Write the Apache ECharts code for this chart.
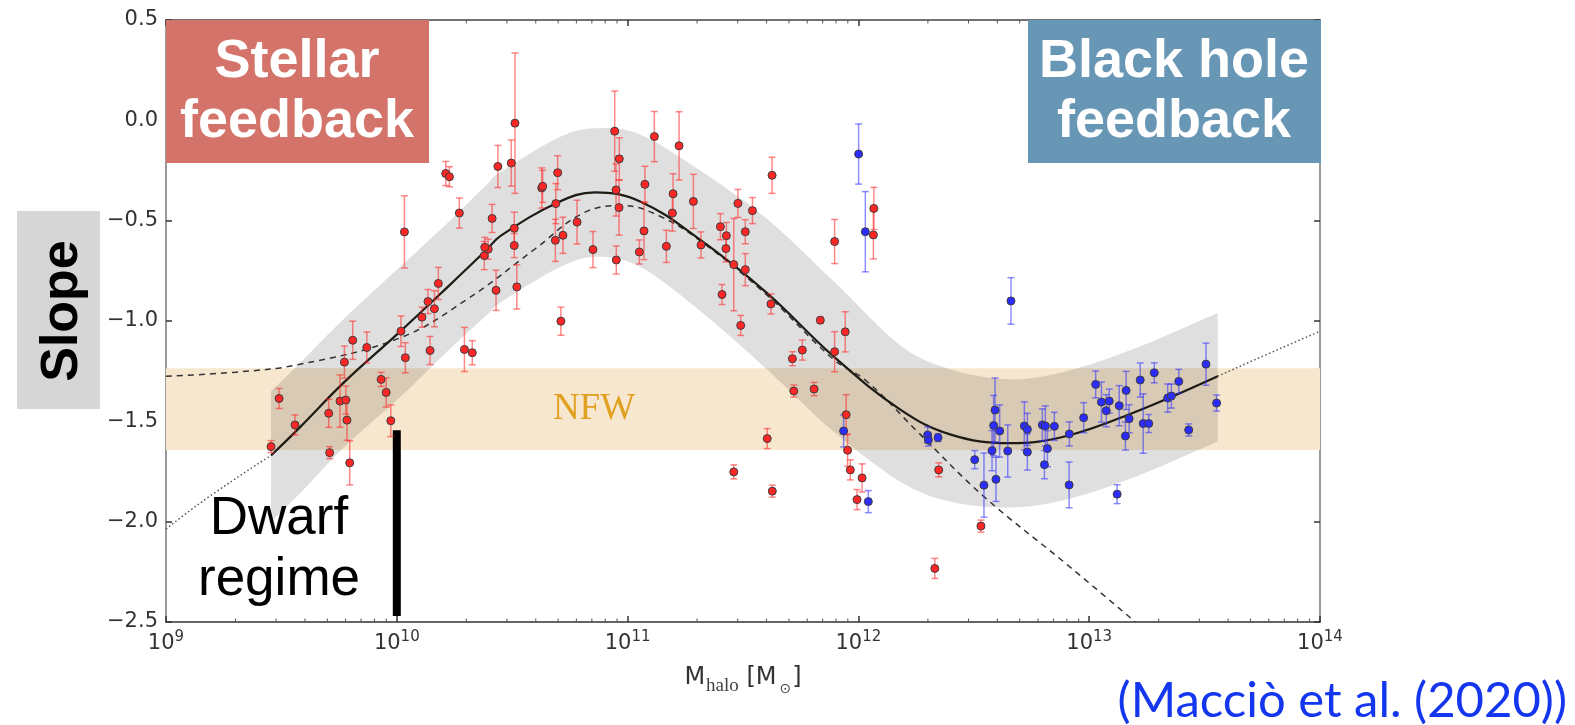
<!DOCTYPE html>
<html>
<head>
<meta charset="utf-8">
<script src="https://cdn.jsdelivr.net/npm/echarts@6.0.0/dist/echarts.min.js"></script>
<style>
  html, body { margin: 0; padding: 0; background: #fff; }
  #chart { width: 1575px; height: 725px; }
</style>
</head>
<body>
<div id="chart"></div>
<script>
// log10(M_halo) and slope values
const redLogM = [9.455, 9.490, 9.559, 9.705, 9.709, 9.754, 9.779, 9.784, 9.796, 9.773, 9.809, 9.870, 9.932, 9.954, 9.974,
  10.018, 10.037, 10.033, 10.109, 10.135, 10.163, 10.144, 10.180, 10.293, 10.327, 10.379, 10.396, 10.430, 10.520, 10.212,
  10.228, 10.271, 10.438, 10.496, 10.512, 10.413, 10.381, 10.509, 10.509, 10.628, 10.632, 10.697, 10.689, 10.687, 10.720,
  10.781, 10.711, 10.850, 10.944, 10.964, 10.950, 10.963, 10.951, 11.075, 11.071, 11.051, 11.116, 11.223, 11.197, 11.194,
  11.168, 11.285, 11.318, 11.402, 11.428, 11.426, 11.478, 11.460, 11.510, 11.510, 11.541, 11.409, 11.490, 11.626, 11.621,
  11.835, 11.897, 12.067, 12.065, 11.714, 11.757, 11.897, 11.943, 11.720, 11.808, 11.605, 11.460, 11.627, 11.947, 11.953,
  11.965, 12.016, 11.994, 12.348, 12.331, 12.531]
const redSlope = [-1.626, -1.386, -1.518, -1.460, -1.656, -1.399, -1.394, -1.494, -1.707, -1.205, -1.096, -1.132, -1.291, -1.356, -1.497,
  -1.051, -1.183, -0.556, -0.981, -0.903, -0.939, -1.147, -0.813, -1.142, -1.158, -0.674, -0.642, -0.847, -0.830, -0.265,
  -0.281, -0.462, -0.230, -0.213, -0.014, -0.489, -0.633, -0.538, -0.624, -0.337, -0.329, -0.261, -0.415, -0.598, -0.573,
  -0.507, -1.001, -0.644, -0.054, -0.192, -0.347, -0.435, -0.696, -0.319, -0.551, -0.656, -0.081, -0.127, -0.366, -0.462,
  -0.628, -0.404, -0.621, -0.530, -0.575, -0.639, -0.414, -0.719, -0.555, -0.744, -0.450, -0.868, -1.022, -0.274, -0.915,
  -0.996, -0.604, -0.439, -0.571, -1.188, -1.145, -1.153, -1.054, -1.349, -1.339, -1.586, -1.752, -1.848, -1.467, -1.644,
  -1.742, -1.782, -1.890, -1.742, -2.233, -2.022]
const redErr = [0.03, 0.05, 0.05, 0.07, 0.03, 0.13, 0.07, 0.10, 0.11, 0.08, 0.095, 0.077, 0.035, 0.073, 0.079,
  0.076, 0.075, 0.18, 0.05, 0.06, 0.09, 0.07, 0.08, 0.11, 0.06, 0.07, 0.05, 0.10, 0.11, 0.06,
  0.05, 0.075, 0.105, 0.115, 0.35, 0.07, 0.05, 0.08, 0.06, 0.10, 0.08, 0.085, 0.10, 0.105, 0.09,
  0.109, 0.07, 0.09, 0.20, 0.105, 0.13, 0.137, 0.07, 0.09, 0.143, 0.06, 0.125, 0.17, 0.10, 0.09,
  0.08, 0.135, 0.065, 0.065, 0.066, 0.066, 0.07, 0.23, 0.06, 0.08, 0.065, 0.05, 0.05, 0.09, 0.05,
  0.015, 0.11, 0.105, 0.12, 0.035, 0.05, 0.10, 0.10, 0.03, 0.033, 0.05, 0.035, 0.03, 0.10, 0.08,
  0.05, 0.07, 0.05, 0.035, 0.05, 0.03]

const blueLogM = [12.001, 12.030, 11.936, 12.043, 12.661, 12.300, 12.303, 12.345, 12.504, 12.544, 12.579, 12.586, 12.592, 12.596,
  12.612, 12.647, 12.719, 12.732, 12.732, 12.797, 12.810, 12.806, 12.819, 12.849, 12.914, 12.913, 12.976, 13.121, 13.028,
  13.053, 13.074, 13.087, 13.130, 13.160, 13.157, 13.173, 13.221, 13.234, 13.258, 13.282, 13.340, 13.356, 13.388, 13.431,
  13.506, 13.552]
const blueSlope = [-0.168, -0.555, -1.548, -1.900, -0.900, -1.568, -1.593, -1.581, -1.691, -1.818, -1.646, -1.521, -1.444, -1.789,
  -1.548, -1.648, -1.523, -1.540, -1.653, -1.518, -1.523, -1.716, -1.636, -1.525, -1.563, -1.817, -1.482, -1.863, -1.316,
  -1.404, -1.447, -1.399, -1.422, -1.346, -1.573, -1.487, -1.294, -1.511, -1.511, -1.258, -1.384, -1.374, -1.301, -1.543,
  -1.215, -1.409]
const blueErr = [0.15, 0.20, 0.08, 0.055, 0.116, 0.04, 0.03, 0.02, 0.045, 0.16, 0.10, 0.15, 0.16, 0.11,
  0.13, 0.13, 0.12, 0.08, 0.09, 0.08, 0.10, 0.07, 0.09, 0.07, 0.06, 0.114, 0.075, 0.047, 0.067,
  0.10, 0.08, 0.06, 0.10, 0.095, 0.07, 0.07, 0.085, 0.148, 0.045, 0.05, 0.07, 0.06, 0.06, 0.03,
  0.105, 0.04]

// fit curve (solid) with its scatter band
const fitLogM = [9.455, 9.58, 9.77, 10.014, 10.23, 10.39, 10.447, 10.693, 10.859, 11.054, 11.314, 11.603, 11.891, 12.18, 12.397, 12.657, 12.902, 13.191, 13.557]
const fitSlope = [-1.670, -1.530, -1.307, -1.053, -0.820, -0.644, -0.578, -0.412, -0.359, -0.404, -0.595, -0.860, -1.175, -1.440, -1.565, -1.609, -1.573, -1.457, -1.275]
const bandUpper = [-1.35, -1.21, -0.99, -0.73, -0.50, -0.32, -0.26, -0.09, -0.04, -0.07, -0.25, -0.49, -0.80, -1.12, -1.24, -1.29, -1.25, -1.14, -0.96]
const bandLower = [-2.00, -1.86, -1.63, -1.38, -1.14, -0.97, -0.91, -0.74, -0.68, -0.73, -0.95, -1.24, -1.55, -1.80, -1.90, -1.93, -1.89, -1.78, -1.60]

// extrapolation of the fit (dotted)
const extLeftLogM = [9.0, 9.191, 9.455]
const extLeftSlope = [-2.037, -1.872, -1.670]
const extRightLogM = [13.557, 13.769, 14.0]
const extRightSlope = [-1.275, -1.167, -1.051]

// dashed curve
const dashLogM = [9.0, 9.3, 9.58, 10.014, 10.303, 10.6, 10.808, 10.981, 11.14, 11.314, 11.603, 11.891, 12.036, 12.253, 12.541, 12.9, 13.2]
const dashSlope = [-1.275, -1.255, -1.216, -1.084, -0.893, -0.64, -0.462, -0.425, -0.478, -0.60, -0.87, -1.19, -1.30, -1.548, -1.872, -2.21, -2.5]

// NFW range and the dwarf marker line
const nfwRange = [-1.643, -1.236]
const dwarfLogM = 10
const dwarfRange = [-1.545, -2.47]

const xTickExps = [9, 10, 11, 12, 13, 14]
const minorMults = [2, 3, 4, 5, 6, 7, 8, 9]

const chart = echarts.init(document.getElementById('chart'))

const pts = (xs, ys) => xs.map((m, i) => [Math.pow(10, m), ys[i]])
const withErr = (xs, ys, es) => xs.map((m, i) => [Math.pow(10, m), ys[i], es[i]])

const minorTicks = []
xTickExps.slice(0, -1).forEach(e => minorMults.forEach(k => minorTicks.push(k * Math.pow(10, e))))

// catmull-rom through pixel points -> cubic bezier commands
function curvePath(p) {
  let s = ''
  for (let i = 0; i < p.length - 1; i++) {
    const p0 = p[Math.max(i - 1, 0)], p1 = p[i], p2 = p[i + 1], p3 = p[Math.min(i + 2, p.length - 1)]
    const c1 = [p1[0] + (p2[0] - p0[0]) / 6, p1[1] + (p2[1] - p0[1]) / 6]
    const c2 = [p2[0] - (p3[0] - p1[0]) / 6, p2[1] - (p3[1] - p1[1]) / 6]
    s += ' C' + c1.join(',') + ' ' + c2.join(',') + ' ' + p2.join(',')
  }
  return s
}

function bandRender(params, api) {
  if (params.dataIndex !== 0) return null
  const up = fitLogM.map((m, i) => api.coord([Math.pow(10, m), bandUpper[i]]))
  const lo = fitLogM.map((m, i) => api.coord([Math.pow(10, m), bandLower[i]])).reverse()
  const d = 'M' + up[0].join(',') + curvePath(up) + ' L' + lo[0].join(',') + curvePath(lo) + ' Z'
  return { type: 'path', shape: { pathData: d }, style: { fill: 'rgba(0,0,0,0.125)' } }
}

function errRender(color) {
  return function (params, api) {
    const x = api.value(0), y = api.value(1), e = api.value(2)
    const top = api.coord([x, y + e])
    const bot = api.coord([x, y - e])
    const hw = 3.5
    const style = { stroke: color, lineWidth: 1.5 }
    return {
      type: 'group',
      children: [
        { type: 'line', shape: { x1: top[0], y1: top[1], x2: bot[0], y2: bot[1] }, style },
        { type: 'line', shape: { x1: top[0] - hw, y1: top[1], x2: top[0] + hw, y2: top[1] }, style },
        { type: 'line', shape: { x1: bot[0] - hw, y1: bot[1], x2: bot[0] + hw, y2: bot[1] }, style }
      ]
    }
  }
}

function minorTickRender(params, api) {
  const v = api.value(0)
  const b = api.coord([v, -2.5])
  const t = api.coord([v, 0.5])
  const style = { stroke: '#555', lineWidth: 1 }
  return {
    type: 'group',
    children: [
      { type: 'line', shape: { x1: b[0], y1: b[1], x2: b[0], y2: b[1] - 3.5 }, style },
      { type: 'line', shape: { x1: t[0], y1: t[1], x2: t[0], y2: t[1] + 3.5 }, style }
    ]
  }
}

const tickFont = 'DejaVu Sans'

const option = {
  animation: false,
  backgroundColor: '#fff',
  grid: { left: 166, right: 255, top: 20, bottom: 103, outerBoundsMode: 'none', containLabel: false },
  xAxis: [
    {
      type: 'log', logBase: 10, min: 1e9, max: 1e14, position: 'bottom',
      axisLine: { show: true, onZero: false, lineStyle: { color: '#333', width: 1.5 } },
      axisTick: { show: true, inside: true, length: 6, lineStyle: { color: '#333', width: 1.5 } },
      minorTick: { show: false },
      splitLine: { show: false },
      axisLabel: {
        margin: 8,
        formatter: v => {
          const e = xTickExps.find(k => Math.abs(Math.log10(v) - k) < 1e-6)
          return '{b|10}{s|' + e + '}'
        },
        rich: {
          b: { fontSize: 21, fontFamily: tickFont, color: '#333', verticalAlign: 'bottom' },
          s: { fontSize: 15, fontFamily: tickFont, color: '#333', verticalAlign: 'bottom', padding: [0, 0, 9, 0] }
        }
      },
      name: '{m|M}{h|halo}{m| [M}{o|\u2299}{m|]}',
      nameLocation: 'middle',
      nameGap: 44,
      nameTextStyle: {
        rich: {
          m: { fontSize: 24, fontFamily: tickFont, color: '#333', verticalAlign: 'bottom', padding: [0, 0, 6, 0] },
          h: { fontSize: 19, fontFamily: 'Liberation Serif', color: '#444', verticalAlign: 'bottom', padding: [0, 0, 0, 1] },
          o: { fontSize: 14, fontFamily: tickFont, color: '#444', verticalAlign: 'bottom', padding: [0, 1, 0, 3] }
        }
      }
    },
    {
      type: 'log', logBase: 10, min: 1e9, max: 1e14, position: 'top',
      axisLine: { show: true, onZero: false, lineStyle: { color: '#444', width: 1.5 } },
      axisTick: { show: true, inside: true, length: 6, lineStyle: { color: '#333', width: 1.5 } },
      axisLabel: { show: false },
      splitLine: { show: false }
    }
  ],
  yAxis: [
    {
      type: 'value', min: -2.5, max: 0.5, interval: 0.5, position: 'left',
      axisLine: { show: true, onZero: false, lineStyle: { color: '#9a9a9a', width: 2 } },
      axisTick: { show: true, inside: true, length: 6, lineStyle: { color: '#333', width: 1.5 } },
      splitLine: { show: false },
      axisLabel: {
        margin: 8, fontSize: 21, fontFamily: tickFont, color: '#333',
        formatter: v => v.toFixed(1).replace('-', '\u2212')
      }
    },
    {
      type: 'value', min: -2.5, max: 0.5, interval: 0.5, position: 'right',
      axisLine: { show: true, onZero: false, lineStyle: { color: '#9a9a9a', width: 2 } },
      axisTick: { show: true, inside: true, length: 6, lineStyle: { color: '#333', width: 1.5 } },
      splitLine: { show: false },
      axisLabel: { show: false }
    }
  ],
  series: [
    {
      name: 'nfw', type: 'line', data: [], silent: true, z: 0,
      markArea: {
        silent: true,
        itemStyle: { color: '#f7e7cf' },
        data: [[{ xAxis: 1e9, yAxis: nfwRange[1] }, { xAxis: 1e14, yAxis: nfwRange[0] }]]
      }
    },
    {
      name: 'band', type: 'custom', z: 1, silent: true,
      renderItem: bandRender,
      encode: { x: 0, y: 1 },
      data: pts(fitLogM, fitSlope)
    },
    {
      name: 'dwarf', type: 'line', symbol: 'none', z: 3,
      lineStyle: { color: '#000', width: 8 },
      data: dwarfRange.map(v => [Math.pow(10, dwarfLogM), v])
    },
    {
      name: 'extLeft', type: 'line', smooth: true, symbol: 'none', z: 3,
      lineStyle: { color: '#555', width: 1.5, type: [1.5, 2.5] },
      data: pts(extLeftLogM, extLeftSlope)
    },
    {
      name: 'extRight', type: 'line', smooth: true, symbol: 'none', z: 3,
      lineStyle: { color: '#555', width: 1.5, type: [1.5, 2.5] },
      data: pts(extRightLogM, extRightSlope)
    },
    {
      name: 'dashed', type: 'line', smooth: 0.4, symbol: 'none', z: 3,
      lineStyle: { color: '#333', width: 1.5, type: [6, 5] },
      data: pts(dashLogM, dashSlope)
    },
    {
      name: 'fit', type: 'line', smooth: 0.4, symbol: 'none', z: 3,
      lineStyle: { color: '#1e1a14', width: 2.2 },
      data: pts(fitLogM, fitSlope)
    },
    {
      name: 'redErr', type: 'custom', z: 4, silent: true,
      renderItem: errRender('rgba(255,40,40,0.55)'),
      encode: { x: 0, y: 1 },
      data: withErr(redLogM, redSlope, redErr)
    },
    {
      name: 'blueErr', type: 'custom', z: 4, silent: true,
      renderItem: errRender('rgba(50,50,255,0.55)'),
      encode: { x: 0, y: 1 },
      data: withErr(blueLogM, blueSlope, blueErr)
    },
    {
      name: 'red', type: 'scatter', z: 5, symbolSize: 8,
      itemStyle: { color: '#ff2626', borderColor: '#3c3c3c', borderWidth: 1, opacity: 1 },
      data: pts(redLogM, redSlope)
    },
    {
      name: 'blue', type: 'scatter', z: 5, symbolSize: 8,
      itemStyle: { color: '#2c2cff', borderColor: '#3c3c3c', borderWidth: 1, opacity: 1 },
      data: pts(blueLogM, blueSlope)
    },
    {
      name: 'minorTicks', type: 'custom', z: 6, silent: true,
      renderItem: minorTickRender,
      encode: { x: 0 },
      data: minorTicks.map(v => [v])
    }
  ],
  graphic: [
    { type: 'rect', shape: { x: 166, y: 20, width: 263, height: 143 }, style: { fill: '#d4736a' }, z: 10 },
    { type: 'text', x: 297, y: 62, z: 11, style: { text: 'Stellar', fill: '#fff', font: 'bold 54px "Liberation Sans"', align: 'center', verticalAlign: 'middle' } },
    { type: 'text', x: 297, y: 122, z: 11, style: { text: 'feedback', fill: '#fff', font: 'bold 54px "Liberation Sans"', align: 'center', verticalAlign: 'middle' } },
    { type: 'rect', shape: { x: 1028, y: 20, width: 293, height: 143 }, style: { fill: '#6896b5' }, z: 10 },
    { type: 'text', x: 1174, y: 62, z: 11, style: { text: 'Black hole', fill: '#fff', font: 'bold 54px "Liberation Sans"', align: 'center', verticalAlign: 'middle' } },
    { type: 'text', x: 1174, y: 122, z: 11, style: { text: 'feedback', fill: '#fff', font: 'bold 54px "Liberation Sans"', align: 'center', verticalAlign: 'middle' } },
    { type: 'rect', shape: { x: 17, y: 211, width: 83, height: 198 }, style: { fill: '#d6d6d6' }, z: 10 },
    { type: 'text', x: 63, y: 311, rotation: Math.PI / 2, z: 11, style: { text: 'Slope', fill: '#000', font: 'bold 52px "Liberation Sans"', align: 'center', verticalAlign: 'middle' } },
    { type: 'text', x: 279, y: 519, z: 11, style: { text: 'Dwarf', fill: '#000', font: '53px "Liberation Sans"', align: 'center', verticalAlign: 'middle' } },
    { type: 'text', x: 279, y: 580, z: 11, style: { text: 'regime', fill: '#000', font: '53px "Liberation Sans"', align: 'center', verticalAlign: 'middle' } },
    { type: 'text', x: 594, y: 409, z: 11, style: { text: 'NFW', fill: '#e0a020', font: '37px "Liberation Serif"', align: 'center', verticalAlign: 'middle' } },
    { type: 'text', x: 1567, y: 701, z: 11, style: { text: '(Macci\u00f2 et al. (2020))', fill: '#1336ee', font: '49px Lato', align: 'right', verticalAlign: 'middle' } }
  ]
}

chart.setOption(option)
</script>
</body>
</html>
